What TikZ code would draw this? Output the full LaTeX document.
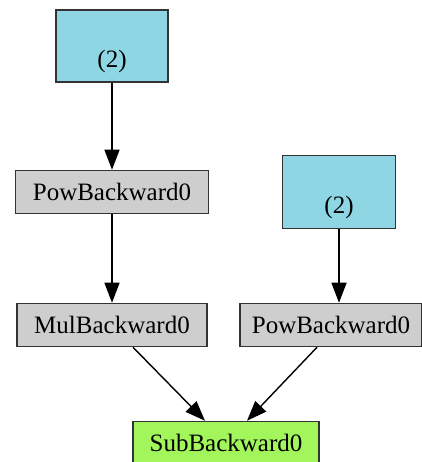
\documentclass[tikz,border=0pt]{standalone}
\usepackage{fontspec}
\setmainfont{Liberation Serif}
\usetikzlibrary{positioning,arrows.meta}
\definecolor{leafblue}{HTML}{8ED6E4}
\definecolor{gradgray}{HTML}{CECECE}
\definecolor{rootgreen}{HTML}{A2F55A}
\definecolor{edgegray}{HTML}{333333}
\begin{document}
\begin{tikzpicture}[x=1pt, y=1pt, node distance=0pt]

  % Definitions
  \tikzstyle{Leaf} = [rectangle, minimum width=112pt, minimum height=72pt, align=center, text centered, draw=edgegray, line width=1.5pt, fill=leafblue, font=\fontsize{25}{29}\selectfont]
  \tikzstyle{Grad} = [rectangle, minimum height=43pt, inner xsep=12pt, text centered, draw=edgegray, line width=1.5pt, fill=gradgray, font=\fontsize{25}{29}\selectfont]
  \tikzstyle{arrow} = [line width=1.4pt, -{Triangle[length=20pt, width=15pt]}]

  \useasboundingbox (0,0) rectangle (421,462);

  \node (leafA) [Leaf] at (112,416) {\strut\\(2)};
  \node (powA) [Grad, below of=leafA, yshift=-146pt, minimum width=193pt] {PowBackward0};
  \node (leafB) [Leaf, right of=powA, xshift=227pt, minimum width=113pt, minimum height=73pt] {\strut\\(2)};
  \node (mul) [Grad, below of=powA, yshift=-133pt, minimum width=190pt] {MulBackward0};
  \node (powB) [Grad, right of=mul, xshift=219pt, minimum width=176pt] {PowBackward0};
  \node (sub) [Grad, below right of=mul, xshift=114pt, yshift=-118pt, minimum width=186pt, fill=rootgreen] {SubBackward0};

  \draw [arrow] (leafA) -- (powA);
  \draw [arrow] (powA) -- (mul);
  \draw [arrow] (leafB) -- (leafB |- powB.north);
  \draw [arrow] ([xshift=21pt]mul.south) -- ([xshift=-21pt]sub.north);
  \draw [arrow] ([xshift=-14pt]powB.south) -- ([xshift=21pt]sub.north);

\end{tikzpicture}
\end{document}
